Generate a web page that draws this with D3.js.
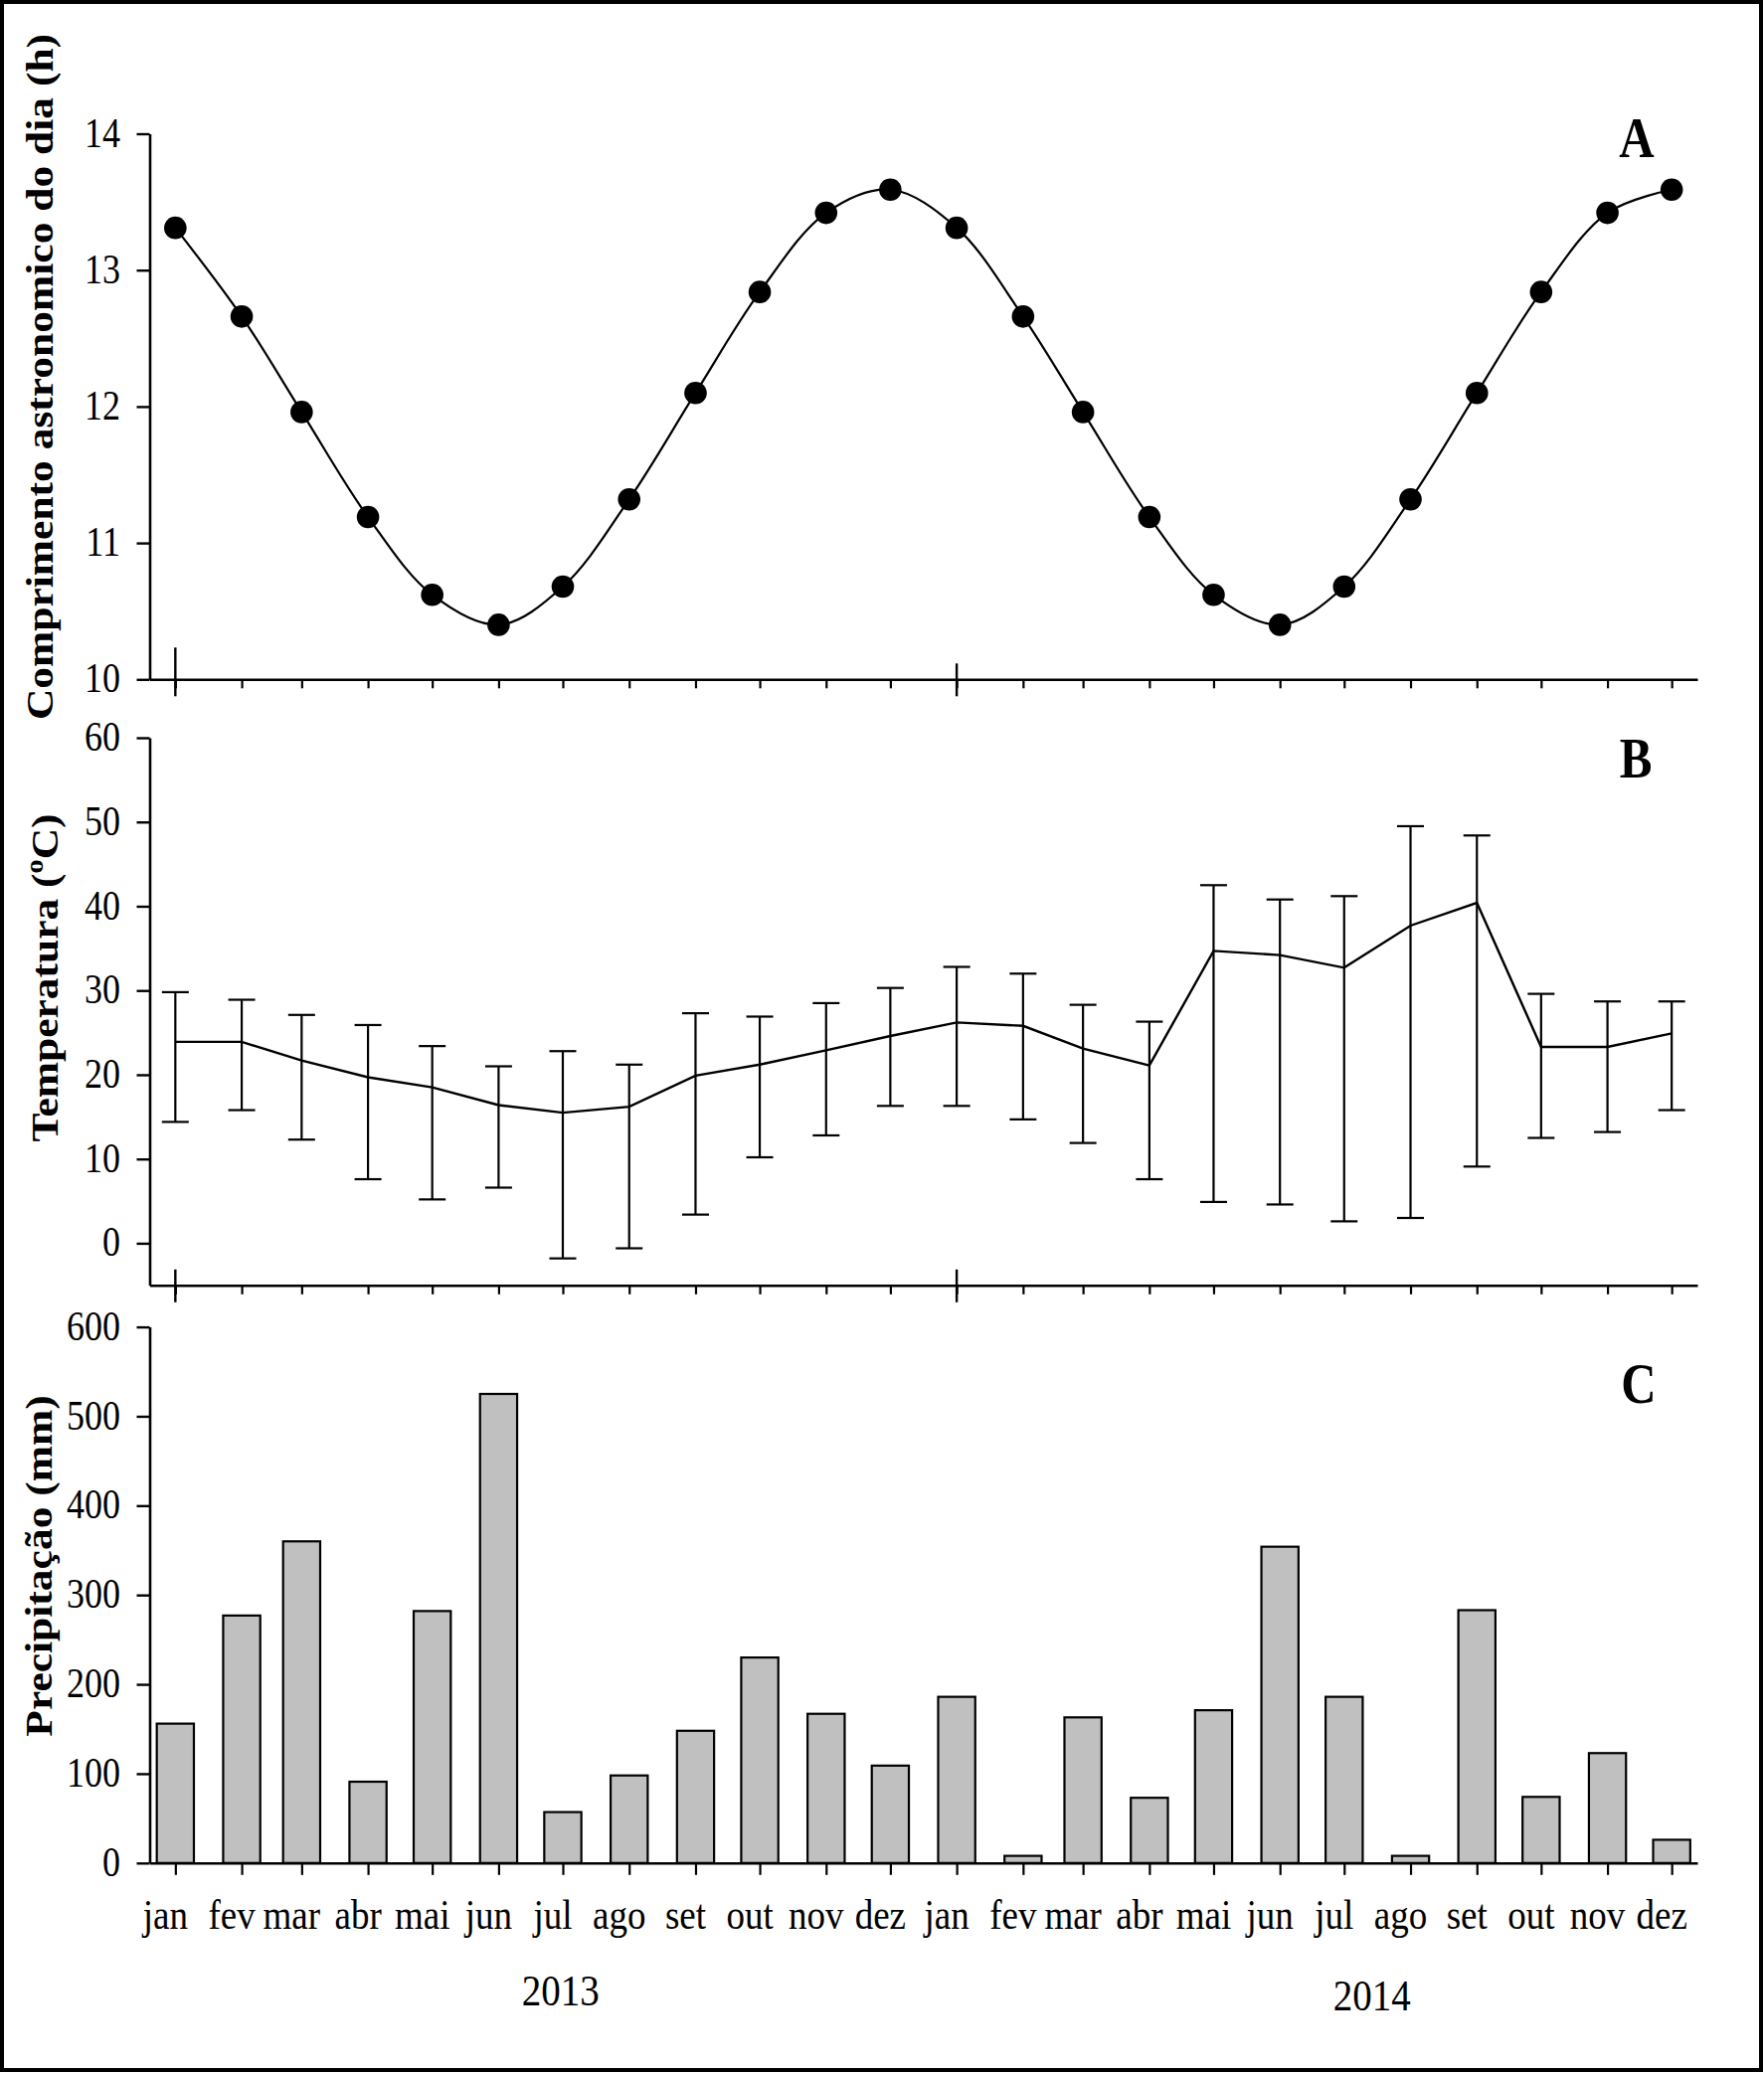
<!DOCTYPE html>
<html><head><meta charset="utf-8">
<script src="https://cdn.jsdelivr.net/npm/d3@7"></script>
<style>
html,body{margin:0;padding:0;background:#fff;}
svg{display:block;}
text{font-family:"Liberation Serif","Times New Roman",Times,serif;fill:#000;}
</style>
</head><body>
<svg id="chart" width="1774" height="2085"></svg>
<script>
// ---------------- data ----------------
const months = ["2013-01-01","2013-02-01","2013-03-01","2013-04-01","2013-05-01","2013-06-01",
  "2013-07-01","2013-08-01","2013-09-01","2013-10-01","2013-11-01","2013-12-01",
  "2014-01-01","2014-02-01","2014-03-01","2014-04-01","2014-05-01","2014-06-01",
  "2014-07-01","2014-08-01","2014-09-01","2014-10-01","2014-11-01","2014-12-01"];
const monthLabels = ["jan","fev","mar","abr","mai","jun","jul","ago","set","out","nov","dez",
  "jan","fev","mar","abr","mai","jun","jul","ago","set","out","nov","dez"];
const yearLabels = ["2013","2014"];
const yearLabelDates = ["2013-06-30","2014-07-14"];
const majorTickDates = ["2013-01-01","2014-01-01"];

// A: astronomical day length (h)
const dayLength = [13.31,12.66,11.96,11.19,10.62,10.40,10.68,11.32,12.10,12.84,13.42,13.59,
  13.31,12.66,11.96,11.19,10.62,10.40,10.68,11.32,12.10,12.84,13.42,13.59];
// B: temperature (ºC) mean, upper and lower limits
const tempMean  = [23.9,23.9,21.7,19.7,18.5,16.4,15.5,16.2,19.9,21.2,22.9,24.6,
  26.2,25.8,23.1,21.1,34.7,34.2,32.7,37.7,40.4,23.3,23.3,24.9];
const tempUpper = [29.8,28.9,27.1,25.9,23.4,21.0,22.8,21.2,27.3,26.9,28.5,30.3,
  32.8,32.0,28.3,26.3,42.5,40.8,41.2,49.5,48.4,29.6,28.7,28.7];
const tempLower = [14.4,15.8,12.3,7.6,5.2,6.6,-1.8,-0.6,3.4,10.2,12.8,16.3,
  16.3,14.7,11.9,7.6,4.9,4.6,2.6,3.0,9.1,12.5,13.2,15.8];
// C: precipitation (mm)
const precip = [156,277,360,91,282,525,57,98,148,230,167,109,
  186,8,163,73,171,354,186,8,283,74,123,26];

const ticksA = [10,11,12,13,14];
const ticksB = [0,10,20,30,40,50,60];
const ticksC = [0,100,200,300,400,500,600];

// ---------------- layout ----------------
const svg = d3.select("#chart");
const W = 1774, H = 2085;
const SY = 1.13; // vertical text stretch
const parse = d3.utcParse("%Y-%m-%d");
const dates = months.map(parse);

svg.append("rect").attr("width",W).attr("height",H).attr("fill","#fff");

const x = d3.scaleUtc()
  .domain([new Date(Date.UTC(2012,11,20)), new Date(Date.UTC(2014,11,13))])
  .range([150.5, 1707]);

const panels = {
  A: {y: d3.scaleLinear().domain([10,14]).range([683.3,134.5]), ticks: ticksA, minor: 9},
  B: {y: d3.scaleLinear().domain([-5,60]).range([1292.8,742]), ticks: ticksB, minor: 9},
  C: {y: d3.scaleLinear().domain([0,600]).range([1873.8,1334.6]), ticks: ticksC, minor: 12}
};

function stext(g, px, py, str, fs, opts={}) {
  const t = g.append("text")
    .attr("transform", `translate(${px},${py}) scale(1,${opts.sy||SY})`)
    .attr("text-anchor", opts.anchor || "middle")
    .attr("font-size", fs)
    .text(str);
  if (opts.bold) t.attr("font-weight","bold");
  return t;
}

function yAxis(p) {
  const g = svg.append("g").attr("transform","translate(150.5,0)")
    .call(d3.axisLeft(p.y).tickValues(p.ticks).tickSize(13).tickSizeOuter(0).tickPadding(16.5).tickFormat(d3.format("d")));
  g.select(".domain").attr("stroke-width",2.6);
  g.selectAll(".tick line").attr("stroke-width",2.4);
  g.selectAll(".tick text").attr("font-size",36).attr("font-family",null)
    .attr("transform",`scale(1,${SY+0.03})`).attr("dy","0.3em");
  return g;
}

function xAxis(p, withMajor, majorUp) {
  const y0 = p.y.range()[0];
  const g = svg.append("g").attr("transform",`translate(0,${y0})`)
    .call(d3.axisBottom(x).tickValues(dates).tickSize(p.minor).tickSizeOuter(0).tickFormat(""));
  g.select(".domain").attr("stroke-width",2.6);
  g.selectAll(".tick line").attr("stroke-width",2.2);
  if (withMajor) {
    g.selectAll(".major").data(majorTickDates.map(parse)).join("line")
      .attr("x1", d => x(d)).attr("x2", d => x(d))
      .attr("y1", (d,i) => -majorUp[i]).attr("y2", 17)
      .attr("stroke","#000").attr("stroke-width",2.4);
  }
  return g;
}

// ---------------- Panel A ----------------
(function(){
  const p = panels.A;
  yAxis(p);
  xAxis(p, true, [32,16]);
  const line = d3.line().x((d,i)=>x(dates[i])).y(d=>p.y(d)).curve(d3.curveCatmullRom.alpha(0.5));
  svg.append("path").datum(dayLength).attr("d",line)
    .attr("fill","none").attr("stroke","#000").attr("stroke-width",2.2);
  svg.append("g").selectAll("circle").data(dayLength).join("circle")
    .attr("cx",(d,i)=>x(dates[i])).attr("cy",d=>p.y(d)).attr("r",11.3).attr("fill","#000");
  svg.append("text")
    .attr("transform",`translate(53,379) rotate(-90) scale(${SY},1)`)
    .attr("text-anchor","middle").attr("font-size",38.5).attr("font-weight","bold")
    .text("Comprimento astronomico do dia (h)");
  stext(svg, 1646, 158, "A", 49, {bold:true, sy:1.18});
})();

// ---------------- Panel B ----------------
(function(){
  const p = panels.B;
  yAxis(p);
  xAxis(p, true, [16,16]);
  const line = d3.line().x((d,i)=>x(dates[i])).y(d=>p.y(d));
  const eb = svg.append("g").attr("stroke","#000").attr("stroke-width",2.2);
  dates.forEach((dt,i)=>{
    const cx = x(dt);
    eb.append("line").attr("x1",cx).attr("x2",cx).attr("y1",p.y(tempUpper[i])).attr("y2",p.y(tempLower[i]));
    eb.append("line").attr("x1",cx-13.5).attr("x2",cx+13.5).attr("y1",p.y(tempUpper[i])).attr("y2",p.y(tempUpper[i]));
    eb.append("line").attr("x1",cx-13.5).attr("x2",cx+13.5).attr("y1",p.y(tempLower[i])).attr("y2",p.y(tempLower[i]));
  });
  svg.append("path").datum(tempMean).attr("d",line)
    .attr("fill","none").attr("stroke","#000").attr("stroke-width",2.4);
  const t = svg.append("text")
    .attr("transform",`translate(58,983.5) rotate(-90) scale(${SY},1)`)
    .attr("text-anchor","middle").attr("font-size",38.5).attr("font-weight","bold");
  t.append("tspan").text("Temperatura (");
  t.append("tspan").attr("font-size",25).attr("dy",-15).text("o");
  t.append("tspan").attr("dy",15).text("C)");
  stext(svg, 1645, 782, "B", 49, {bold:true, sy:1.18});
})();

// ---------------- Panel C ----------------
(function(){
  const p = panels.C;
  const bw = 37.3;
  svg.append("g").selectAll("rect").data(precip).join("rect")
    .attr("x",(d,i)=>x(dates[i])-bw/2).attr("width",bw)
    .attr("y",d=>p.y(d)).attr("height",d=>p.y(0)-p.y(d))
    .attr("fill","#c0c0c0").attr("stroke","#000").attr("stroke-width",2.2);
  yAxis(p);
  xAxis(p, false);
  const lg = svg.append("g");
  monthLabels.forEach((m,i)=>{ stext(lg, x(dates[i])-10, 1939.6, m, 37); });
  yearLabels.forEach((yl,i)=>{ stext(lg, x(parse(yearLabelDates[i])), i===0?2016.7:2021.6, yl, 39); });
  svg.append("text")
    .attr("transform",`translate(52,1575) rotate(-90) scale(${SY},1)`)
    .attr("text-anchor","middle").attr("font-size",38.5).attr("font-weight","bold")
    .text("Precipitação (mm)");
  stext(svg, 1648, 1411, "C", 49, {bold:true, sy:1.18});
})();

// frame
svg.append("rect").attr("x",2).attr("y",2).attr("width",1769).attr("height",2080)
  .attr("fill","none").attr("stroke","#000").attr("stroke-width",4);
</script>
</body></html>
